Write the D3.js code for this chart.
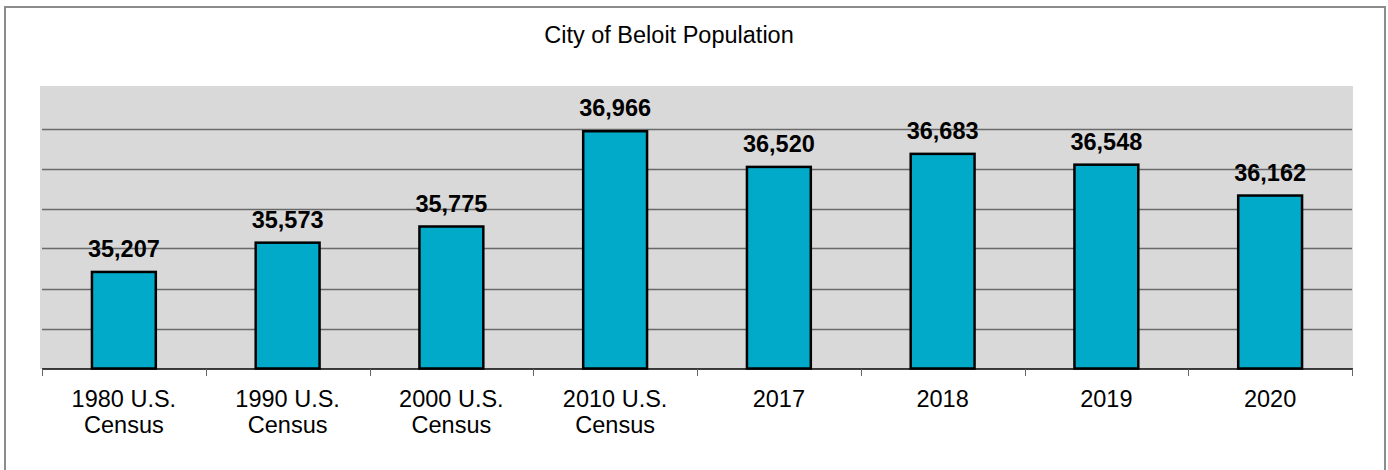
<!DOCTYPE html>
<html>
<head>
<meta charset="utf-8">
<script src="https://cdn.jsdelivr.net/npm/d3@7"></script>
<style>
  html, body { margin: 0; padding: 0; background: #fff; }
  svg { display: block; font-family: "Liberation Sans", Arial, sans-serif; }
</style>
</head>
<body>
<div id="chart"></div>
<script>
// chart data
const categories = [
  ["1980 U.S.", "Census"],
  ["1990 U.S.", "Census"],
  ["2000 U.S.", "Census"],
  ["2010 U.S.", "Census"],
  ["2017"],
  ["2018"],
  ["2019"],
  ["2020"]
];
const population = [35207, 35573, 35775, 36966, 36520, 36683, 36548, 36162];
const gridValues = [34500, 35000, 35500, 36000, 36500, 37000];

const width = 1388;
const height = 470;

const svg = d3.select("#chart")
  .append("svg")
  .attr("width", width)
  .attr("height", height);

// outer frame
svg.append("rect")
  .attr("x", 5)
  .attr("y", 7)
  .attr("width", 1380)
  .attr("height", 480)
  .attr("fill", "none")
  .attr("stroke", "#8c8c8c")
  .attr("stroke-width", 2);

svg.append("text")
  .attr("x", 669)
  .attr("y", 43)
  .attr("text-anchor", "middle")
  .attr("font-size", "23.5px")
  .attr("fill", "#000")
  .text("City of Beloit Population");

const x = d3.scaleBand()
  .domain(d3.range(categories.length))
  .range([42, 1352])
  .padding(0);

const y = d3.scaleLinear()
  .domain([34000, 37500])
  .range([368.5, 88.5]);

// plot background
svg.append("rect")
  .attr("x", 40)
  .attr("y", 86)
  .attr("width", 1313)
  .attr("height", 283)
  .attr("fill", "#d9d9d9");

// gridlines
svg.selectAll("line.grid")
  .data(gridValues)
  .enter().append("line")
  .attr("class", "grid")
  .attr("x1", 42)
  .attr("x2", 1352)
  .attr("y1", (d) => Math.round(y(d)) + 0.5)
  .attr("y2", (d) => Math.round(y(d)) + 0.5)
  .attr("stroke", "#6a6a6a")
  .attr("stroke-width", 1.3);

// bars
const barW = x.bandwidth() * 0.39;
svg.selectAll("rect.bar")
  .data(population)
  .enter().append("rect")
  .attr("class", "bar")
  .attr("x", (d, i) => x(i) + x.bandwidth() / 2 - barW / 2)
  .attr("y", (d) => y(d))
  .attr("width", barW)
  .attr("height", (d) => y(34000) - y(d))
  .attr("fill", "#00aac8")
  .attr("stroke", "#000")
  .attr("stroke-width", 2.5);

// value labels
svg.selectAll("text.value")
  .data(population)
  .enter().append("text")
  .attr("class", "value")
  .attr("x", (d, i) => x(i) + x.bandwidth() / 2)
  .attr("y", (d) => y(d) - 15)
  .attr("text-anchor", "middle")
  .attr("font-size", "23.5px")
  .attr("font-weight", "bold")
  .attr("fill", "#000")
  .text((d) => d3.format(",")(d));

// x axis line and ticks
svg.append("line")
  .attr("x1", 42)
  .attr("x2", 1353)
  .attr("y1", 369)
  .attr("y2", 369)
  .attr("stroke", "#000")
  .attr("stroke-width", 1.5);

const tickPos = d3.range(categories.length + 1).map((i) => i < categories.length ? x(i) : x.range()[1]);
svg.selectAll("line.tick")
  .data(tickPos)
  .enter().append("line")
  .attr("class", "tick")
  .attr("x1", (d) => Math.round(d) + 0.5)
  .attr("x2", (d) => Math.round(d) + 0.5)
  .attr("y1", 369)
  .attr("y2", 376)
  .attr("stroke", "#666")
  .attr("stroke-width", 1);

// category labels
const catLabel = svg.selectAll("text.cat")
  .data(categories)
  .enter().append("text")
  .attr("class", "cat")
  .attr("text-anchor", "middle")
  .attr("font-size", "23.5px")
  .attr("fill", "#000");

catLabel.selectAll("tspan")
  .data((d, i) => d.map((line) => ({ line, i })))
  .enter().append("tspan")
  .attr("x", (d) => x(d.i) + x.bandwidth() / 2)
  .attr("y", (d, j) => 407 + j * 26)
  .text((d) => d.line);
</script>
</body>
</html>
